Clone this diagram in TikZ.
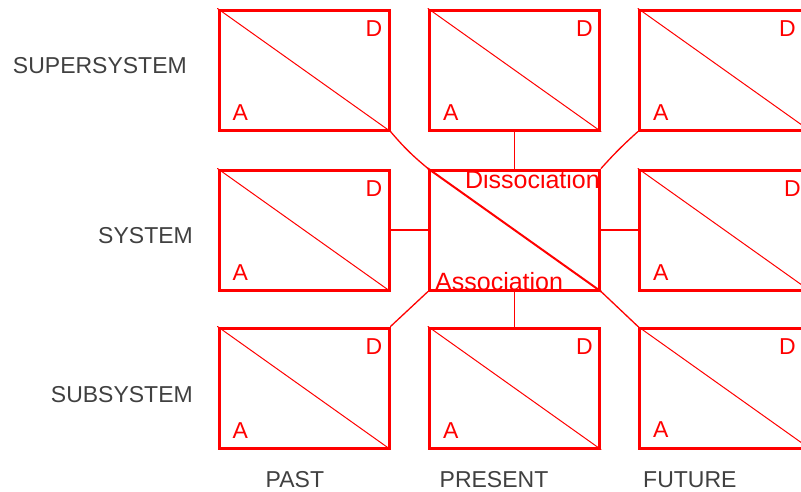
\documentclass[tikz,border=0pt]{standalone}
\usepackage{fontspec}
\setmainfont{Liberation Sans}
\usetikzlibrary{positioning}

\begin{document}
\begin{tikzpicture}[line cap=round,line join=round,x=1pt,y=-1pt,
    cell/.style={draw=red,line width=3pt,line cap=butt,line join=miter,
      minimum width=170pt,minimum height=120pt,inner sep=0pt},
    letter/.style={text=red,inner sep=0pt,font=\fontsize{23}{23}\selectfont},
    level/.style={text=black!75,inner sep=0pt,font=\fontsize{23}{23}\selectfont},
    phase/.style={text=red,inner sep=0pt,font=\fontsize{25}{25}\selectfont},
    diag/.style={red,line width=1pt},
    link/.style={red,line width=1.3pt}]
      \useasboundingbox (0,0) rectangle (801,491);
      \clip (0,0) rectangle (801,491);

      % Grid of cells: rows are levels, columns are time
      \node[cell] (b11) at (304,70) {};
      \node[cell] (b12) at (514.5,70) {};
      \node[cell] (b13) at (724.5,70) {};
      \node[cell] (b21) at (304,230) {};
      \node[cell] (b22) at (514.5,230) {};
      \node[cell] (b23) at (724.5,230) {};
      \node[cell] (b31) at (304,388) {};
      \node[cell] (b32) at (514.5,388) {};
      \node[cell] (b33) at (724.5,388) {};

      % Diagonals from corner to corner
      \draw[diag] (b11.north west) -- (b11.south east);
      \draw[diag] (b12.north west) -- (b12.south east);
      \draw[diag] (b13.north west) -- (b13.south east);
      \draw[diag] (b21.north west) -- (b21.south east);
      \draw[diag, line width=2pt] (b22.north west) -- (b22.south east); % middle one is heavier
      \draw[diag] (b23.north west) -- (b23.south east);
      \draw[diag] (b31.north west) -- (b31.south east);
      \draw[diag] (b32.north west) -- (b32.south east);
      \draw[diag] (b33.north west) -- (b33.south east);

      % D in the upper right, A in the lower left
      \node[letter, below left=12pt and 8pt of b11.north east] (d11) {D};
      \node[letter, below left=12pt and 8pt of b12.north east] (d12) {D};
      \node[letter, below left=12pt and 15pt of b13.north east] (d13) {D};
      \node[letter, below left=12pt and 8pt of b21.north east] (d21) {D};
      \node[letter, below left=12pt and 10pt of b23.north east] (d23) {D};
      \node[letter, below left=12pt and 8pt of b31.north east] (d31) {D};
      \node[letter, below left=12pt and 8pt of b32.north east] (d32) {D};
      \node[letter, below left=12pt and 15pt of b33.north east] (d33) {D};
      \node[letter, above right=11pt and 15pt of b11.south west] (a11) {A};
      \node[letter, above right=11pt and 15pt of b12.south west] (a12) {A};
      \node[letter, above right=11pt and 15pt of b13.south west] (a13) {A};
      \node[letter, above right=11pt and 15pt of b21.south west] (a21) {A};
      \node[letter, above right=11pt and 15pt of b23.south west] (a23) {A};
      \node[letter, above right=11pt and 15pt of b31.south west] (a31) {A};
      \node[letter, above right=11pt and 15pt of b32.south west] (a32) {A};
      \node[letter, above right=12pt and 15pt of b33.south west] (a33) {A};

      % Labels inside the middle cell
      \node[phase, anchor=base east] (dis) at (600,188) {Dissociation};
      \node[phase, anchor=base west] (ass) at (435,290) {Association};

      % Links from the middle cell to its neighbours
      \draw[link] (b12.south) -- (b22.north);
      \draw[link] (b22.south) -- (b32.north);
      \draw[link] (b21.east) -- (b22.west);
      \draw[link] (b22.east) -- (b23.west);
      \draw[link] (b11.south east) to[bend right=5] (b22.north west);
      \draw[link] (b22.north east) to[bend left=3] (b13.south west);
      \draw[link] (b22.south west) -- (b31.north east);
      \draw[link] (b22.south east) -- (b33.north west);

      % Level labels on the left
      \node[level, anchor=base east] (super) at (187,73) {SUPERSYSTEM};
      \node[level, anchor=base east] (sys) at (193,243) {SYSTEM};
      \node[level, anchor=base east] (sub) at (193,402) {SUBSYSTEM};

      % Time labels along the bottom
      \node[level, anchor=base west] (past) at (265.5,487.5) {PAST};
      \node[level, anchor=base west] (present) at (439.5,487.5) {PRESENT};
      \node[level, anchor=base west] (future) at (643,487.5) {FUTURE};
\end{tikzpicture}
\end{document}
